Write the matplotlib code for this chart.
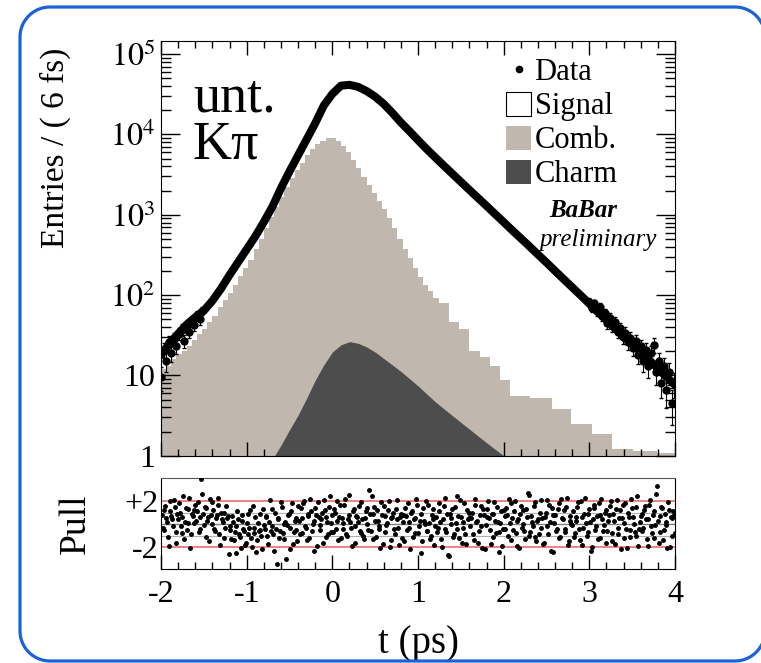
import numpy as np
import matplotlib
matplotlib.use("Agg")
import matplotlib.pyplot as plt
from matplotlib.patches import Patch, PathPatch
from matplotlib.path import Path
from matplotlib.lines import Line2D
from matplotlib.ticker import MultipleLocator, LogLocator, NullFormatter

plt.rcParams['font.family'] = ['Liberation Serif', 'DejaVu Serif']
plt.rcParams['mathtext.fontset'] = 'stix'
plt.rcParams['axes.unicode_minus'] = False

# ---- data ----
# total (data) at 0.1 ps steps from -2 to 4
data_t = np.linspace(-2.0, 4.0, 61)
data_y = [18, 25, 33, 43, 53, 64, 85, 120, 178, 257,
          372, 537, 813, 1260, 2140, 3470, 5500, 8700, 13800, 22900,
          32000, 40500, 41500, 39200, 34700, 29500, 24000, 18600, 14100, 11000,
          8500, 6600, 5200, 4100, 3250, 2570, 2040, 1620, 1290, 1020,
          810, 640, 510, 405, 320, 254, 200, 158, 125, 99,
          78, 62, 49, 39, 31, 24.5, 19.5, 15.5, 12.2, 9.6, 7.6]

# noisy tails of the data, shown with error bars
left_t = np.linspace(-2.0, -1.52, 17)
left_y = [9.5, 21, 15, 26, 19, 28, 23, 33, 37, 27, 41, 35, 48, 42, 56, 50, 64]
right_t = np.linspace(3.0, 3.99, 34)
right_y = [82, 70, 79, 63, 71, 55, 60, 45, 52, 41, 46, 35, 39, 30, 34, 26, 29,
           22, 27, 18, 23, 15, 21, 13, 19, 24, 11, 15, 8, 13, 6.5, 11, 4.5, 8]

# combinatorial background histogram
comb_edges = np.concatenate([np.linspace(-2.0, 1.24, 55),
                             [1.36, 1.48, 1.60, 1.72, 1.84, 1.96, 2.07, 2.31,
                              2.56, 2.79, 3.03, 3.26, 3.51, 3.79, 4.0]])
comb_y = [12.0, 13.2, 15.8, 18.2, 20, 23.4, 27.5, 33, 38, 46,
          55, 72, 87, 105, 132, 174, 219, 275, 380, 501,
          692, 933, 1259, 1660, 2188, 2884, 3631, 4467, 5495, 6607,
          7586, 8318, 8913, 8913, 8318, 7244, 6026, 4786, 3802, 2951,
          2344, 1862, 1479, 1175, 912, 676, 501, 372, 288, 219,
          170, 132, 112, 93,
          79, 46, 38, 20, 17, 12.9, 8.7, 5.6, 5.2, 3.8, 2.45, 1.86, 1.22, 1.15, 1.07]

# charm background
charm_t = np.linspace(-0.7, 2.0, 28)
charm_y = [0.9, 1.35, 2.1, 3.2, 5.2, 8.7, 13.5, 19.5, 24, 26.3,
           25.1, 22.6, 19.5, 16.2, 13.5, 11.2, 9.1, 7.4, 5.9, 4.7,
           3.85, 3.16, 2.6, 2.14, 1.76, 1.45, 1.2, 1.0]

# pulls (two interleaved sets of bins)
pull_t_a = np.linspace(-1.99, 3.99, 300)
pull_a = [0.8, -0.5, 1.6, 0.2, -1.9, 1.1, 0.4, 2.1, -0.7, 0.9, 1.8, -0.2, 0.6, -1.3, 1.4, 0.1, 2.3, -0.9, 0.7, 1.2,
          0.3, 1.9, -0.4, 3.9, 0.9, 1.5, -1.1, 0.6, 2.2, 0.0, 1.2, -0.6, 0.8, 1.7, -1.8, 0.4, 1.0, -0.3, 0.5, -2.6,
          -0.5, 0.7, -1.4, -0.2, 1.1, -0.9, -2.1, 0.3, -0.6, -1.6, 0.9, -0.3, -1.2, 1.6, -0.8, -2.4, 0.1, -0.5, -1.0, 1.3,
          -0.4, 0.6, -1.7, 2.1, -0.2, -0.9, 1.0, -3.5, 0.4, -0.6, 1.5, -1.3, 0.2, -0.1, 0.9, -2.2, 1.8, -0.7, 0.5, -1.5,
          0.3, 1.4, -0.8, 2.0, -0.3, 0.7, -1.2, 1.1, 0.0, -2.3, 0.8, 1.9, -0.5, 0.4, -1.6, 1.2, 0.6, -0.9, 2.4, 0.1,
          -0.7, 1.0, 0.3, -1.4, 1.7, 0.5, -0.4, 2.2, -1.0, 0.8, 0.2, -1.9, 1.3, -0.2, 0.6, 1.6, -0.8, 0.4, -1.3, 1.1,
          0.0, 3.0, -0.6, 0.9, 1.5, -1.1, 0.3, -0.4, 1.9, -1.7, 0.7, -0.1, 1.2, -2.0, 0.5, 1.0, -0.9, 2.1, -0.3, 0.6,
          -1.2, 0.8, 1.4, -0.5, 0.2, -2.2, 1.1, 0.4, -0.8, 1.7, -0.2, 0.9, -1.5, 0.3, 2.0, -0.6, 0.1, -1.0, 1.3, -1.8,
          0.6, -0.3, 1.8, -1.3, 0.4, 2.3, -0.7, -2.7, 0.9, 0.0, -1.1, 1.5, -0.4, 0.7, 2.1, -1.6, 0.2, -0.9, 1.2, 0.5,
          -0.2, 1.0, -1.4, 2.2, 0.3, -0.6, 1.6, -2.1, 0.8, -0.1, 1.3, 0.5, -1.7, 0.9, 1.9, -0.8, 0.2, -2.4, 1.1, -0.4,
          0.7, 1.4, -1.0, 0.1, 1.8, -0.5, 2.0, -1.9, 0.4, 0.9, -0.3, 1.2, -1.3, 0.6, 2.5, -0.7, 0.2, 1.6, -1.1, 0.3,
          -0.9, 2.1, 0.5, -1.6, 1.0, -0.2, 1.7, -2.3, 0.8, 0.1, -0.6, 1.3, -1.2, 2.2, 0.4, -0.4, 1.5, -1.8, 0.7, 0.0,
          1.1, -0.8, 0.3, 1.9, -1.4, 0.6, -0.3, 2.3, -1.0, 0.9, 0.2, -2.0, 1.4, -0.5, 0.7, 1.8, -1.2, 0.4, -0.1, 1.2,
          -0.6, 0.8, 2.0, -1.5, 0.3, 1.3, -0.9, 0.5, -2.2, 1.7, 0.1, -0.4, 1.0, -1.1, 2.2, 0.6, -0.7, 1.5, -1.9, 0.2,
          0.9, -0.3, 1.6, -1.3, 0.4, 2.1, -0.8, 1.1, -0.1, 3.3, -1.6, 0.7, 1.4, -0.5, 0.2, -2.1, 1.2, 0.6, -1.0, 0.8]
pull_t_b = np.linspace(-1.98, 4.0, 300)
pull_b = [-0.3, 1.2, 0.5, -1.1, 2.0, 0.7, -0.2, 1.5, -1.6, 0.4, 1.0, -0.8, 2.4, 0.2, -0.5, 1.3, -2.1, 0.9, 0.1, 1.7,
          1.1, -0.7, 0.6, 2.6, -0.1, 1.4, 0.3, -1.5, 0.8, 1.9, -0.4, 0.5, 2.3, -0.9, 1.0, 0.2, -1.2, 1.6, 0.7, -0.2,
          -1.3, 0.2, -0.7, -2.5, 0.4, -1.1, 0.8, -0.4, -1.8, 0.1, -0.9, 1.2, -2.0, -0.3, 0.6, -1.4, -0.6, 0.9, -2.2, -0.1,
          0.7, -1.0, 0.2, -0.6, 1.3, -2.3, -0.4, 0.5, -1.2, 1.9, -0.8, 0.0, -3.0, 0.8, -0.3, 1.1, -1.7, 0.3, -0.5, 1.6,
          -0.9, 0.5, 1.8, -0.2, -1.4, 0.9, 2.2, -0.6, 0.3, 1.4, -1.9, 0.6, -0.1, 1.0, 2.1, -1.1, 0.2, 1.5, -0.7, 0.8,
          1.3, -0.4, 2.0, 0.6, -1.2, 0.1, 1.7, -0.9, 0.4, 2.5, -0.3, 1.1, -1.6, 0.7, 0.2, -0.6, 1.9, -1.0, 0.5, 1.4,
          -0.5, 0.9, 2.4, -1.3, 0.3, 1.2, -0.2, -2.1, 0.8, 1.6, -0.7, 0.1, 2.0, -1.4, 0.6, -0.4, 1.3, 0.4, -1.8, 0.9,
          0.2, -1.5, 0.7, 1.8, -0.3, 1.0, -1.1, 0.5, 2.2, -0.8, 0.3, -2.5, 1.4, 0.0, -0.6, 1.7, -1.3, 0.8, 0.4, -0.2,
          -0.7, 1.1, 0.2, -2.0, 1.6, -0.4, 0.9, -2.8, 0.5, 1.3, -0.9, 0.1, 2.4, -1.2, 0.6, -0.3, 1.8, -1.7, 0.4, 1.0,
          0.5, -0.9, 1.7, 0.2, -1.6, 0.8, -0.2, 1.3, -2.2, 0.6, 2.0, -0.5, 0.9, -1.1, 0.3, 1.5, -0.7, 0.1, -1.9, 1.2,
          -0.4, 0.8, 2.2, -1.4, 0.5, 1.1, -0.8, 0.3, -2.1, 1.6, 0.0, -0.6, 1.3, 2.7, -1.0, 0.7, -0.2, 1.9, -1.5, 0.4,
          1.0, -0.3, -1.7, 0.6, 2.1, -0.9, 0.2, 1.4, -2.4, 0.8, -0.4, 1.8, -1.1, 0.5, 1.2, -0.7, 2.3, -1.5, 0.3, -0.1,
          -1.1, 0.6, 1.5, -0.4, 2.0, -1.8, 0.9, 0.1, -0.7, 1.3, -2.3, 0.4, 1.7, -0.2, -1.3, 0.8, 2.2, -0.6, 1.0, -1.6,
          0.3, 1.6, -0.8, 0.9, -1.7, 2.1, -0.3, 1.2, 0.5, -1.2, 1.8, -2.1, 0.6, -0.5, 1.4, 0.0, -1.0, 2.4, -0.4, 0.7,
          -0.6, 1.2, 0.4, -1.9, 1.7, -0.2, 0.8, -1.2, 2.6, 0.3, -0.7, 1.5, -1.4, 0.9, -0.1, 1.9, -2.0, 0.5, 1.1, -0.8]

x_labels = ['-2', '-1', '0', '1', '2', '3', '4']
y_labels = ['1', '10', '$10^2$', '$10^3$', '$10^4$', '$10^5$']

comb_col = '#c0b7ae'
charm_col = '#4d4d4d'


def rounded_frame(x0, y0, x1, y1, r, n=16):
    # closed rounded rectangle outline, pixel coordinates
    pts = []
    for cx, cy, a0 in [(x1 - r, y1 - r, 0), (x0 + r, y1 - r, 90),
                       (x0 + r, y0 + r, 180), (x1 - r, y0 + r, 270)]:
        ang = np.radians(np.linspace(a0, a0 + 90, n))
        pts += list(zip(cx + r * np.cos(ang), cy + r * np.sin(ang)))
    pts.append(pts[0])
    return np.array(pts)


W, H = 761, 663
fig = plt.figure(figsize=(W / 100, H / 100), dpi=100)
ax = fig.add_axes([0.2116, 0.3127, 0.6754, 0.6255])
ax2 = fig.add_axes([0.2116, 0.1418, 0.6754, 0.1372])

# ---- main panel ----
ax.stairs(comb_y, comb_edges, fill=True, color=comb_col, baseline=0.1, zorder=1)
ax.fill_between(charm_t, charm_y, 0.1, color=charm_col, lw=0, zorder=2)
ax.plot(data_t, data_y, color='k', lw=5.8, solid_capstyle='round', zorder=4)
ax.errorbar(left_t, left_y, yerr=np.sqrt(left_y), fmt='o', ms=5, color='k',
            elinewidth=0.8, capsize=1.5, zorder=5)
ax.errorbar(right_t, right_y, yerr=np.sqrt(right_y), fmt='o', ms=5, color='k',
            elinewidth=0.8, capsize=1.5, zorder=5)

ax.set_yscale('log')
ax.set_xlim(-2, 4)
ax.set_ylim(1, 1.46e5)
ax.set_yticks([1, 10, 100, 1e3, 1e4, 1e5])
ax.set_yticklabels(y_labels, fontsize=23)
ax.yaxis.set_minor_locator(LogLocator(base=10, subs=np.arange(2, 10)))
ax.yaxis.set_minor_formatter(NullFormatter())
ax.xaxis.set_major_locator(MultipleLocator(1))
ax.xaxis.set_minor_locator(MultipleLocator(0.2))
ax.tick_params(axis='x', which='both', direction='in', top=True, bottom=True, labelbottom=False)
ax.tick_params(axis='x', which='major', length=10, width=1)
ax.tick_params(axis='x', which='minor', length=5, width=1)
ax.tick_params(axis='y', which='both', direction='in', left=True, right=True, pad=4)
ax.tick_params(axis='y', which='major', length=14, width=1)
ax.tick_params(axis='y', which='minor', length=7, width=1)
ax.set_ylabel('Entries / ( 6 fs)', fontsize=24, loc='top')
ax.yaxis.set_label_coords(-0.175, 0.985)

ax.text(0.062, 0.829, 'unt.', transform=ax.transAxes, fontsize=39, va='baseline')
ax.text(0.062, 0.7155, 'K\u03c0', transform=ax.transAxes, fontsize=39, va='baseline')

handles = [Line2D([], [], marker='o', ms=4.5, ls='none', color='k'),
           Patch(facecolor='white', edgecolor='k', lw=0.8),
           Patch(facecolor=comb_col, edgecolor='none'),
           Patch(facecolor=charm_col, edgecolor='none')]
ax.legend(handles, ['Data', 'Signal', 'Comb.', 'Charm'], loc='upper left',
          bbox_to_anchor=(0.672, 0.96), frameon=False, fontsize=22,
          handlelength=0.82, handleheight=0.85, handletextpad=0.1,
          labelspacing=0.14, borderpad=0.0, borderaxespad=0.0)
ax.text(0.821, 0.575, 'BaBar', transform=ax.transAxes, fontsize=18,
        fontweight='bold', fontstyle='italic', ha='center', va='baseline')
ax.text(0.965, 0.505, 'preliminary', transform=ax.transAxes, fontsize=18,
        fontstyle='italic', ha='right', va='baseline')

# ---- pull panel ----
for v, c, w in [(-1, '#b0b0b0', 0.8), (1, '#b0b0b0', 0.8), (0, '#808080', 1.0)]:
    ax2.axhline(v, color=c, lw=w, zorder=1)
for v in (-2, 2):
    ax2.axhline(v, color='#f07878', lw=1.3, zorder=1)
ax2.plot(pull_t_a, pull_a, 'o', ms=2.5, color='k', zorder=3)
ax2.plot(pull_t_b, pull_b, 'o', ms=2.5, color='k', zorder=3)
ax2.set_xlim(-2, 4)
ax2.set_ylim(-3.9, 4.0)
ax2.set_yticks([-2, 2])
ax2.set_yticklabels(['-2', '+2'], fontsize=23)
ax2.set_xticks(np.arange(-2, 5))
ax2.set_xticklabels(x_labels, fontsize=23)
ax2.xaxis.set_minor_locator(MultipleLocator(0.2))
ax2.tick_params(axis='x', which='both', direction='in', top=False, bottom=True, pad=8)
ax2.tick_params(axis='x', which='major', length=10, width=1)
ax2.tick_params(axis='x', which='minor', length=5, width=1)
ax2.tick_params(axis='y', which='both', direction='in', length=0, pad=2)
ax2.spines['top'].set_color('#555555')
ax2.set_ylabel('Pull', fontsize=27)
ax2.yaxis.set_label_coords(-0.132, 0.5)
ax2.set_xlabel('t (ps)', fontsize=28)
ax2.xaxis.set_label_coords(0.5, -0.62)

# rounded blue frame around the whole picture (right side runs past the edge)
pts = rounded_frame(20, 2, 765, 656, 30)
frame = PathPatch(Path(pts / [W, H]), transform=fig.transFigure,
                  facecolor='none', edgecolor='#1a62d6', lw=2.3)
fig.patches.append(frame)

fig.savefig('out.png', dpi=100)
